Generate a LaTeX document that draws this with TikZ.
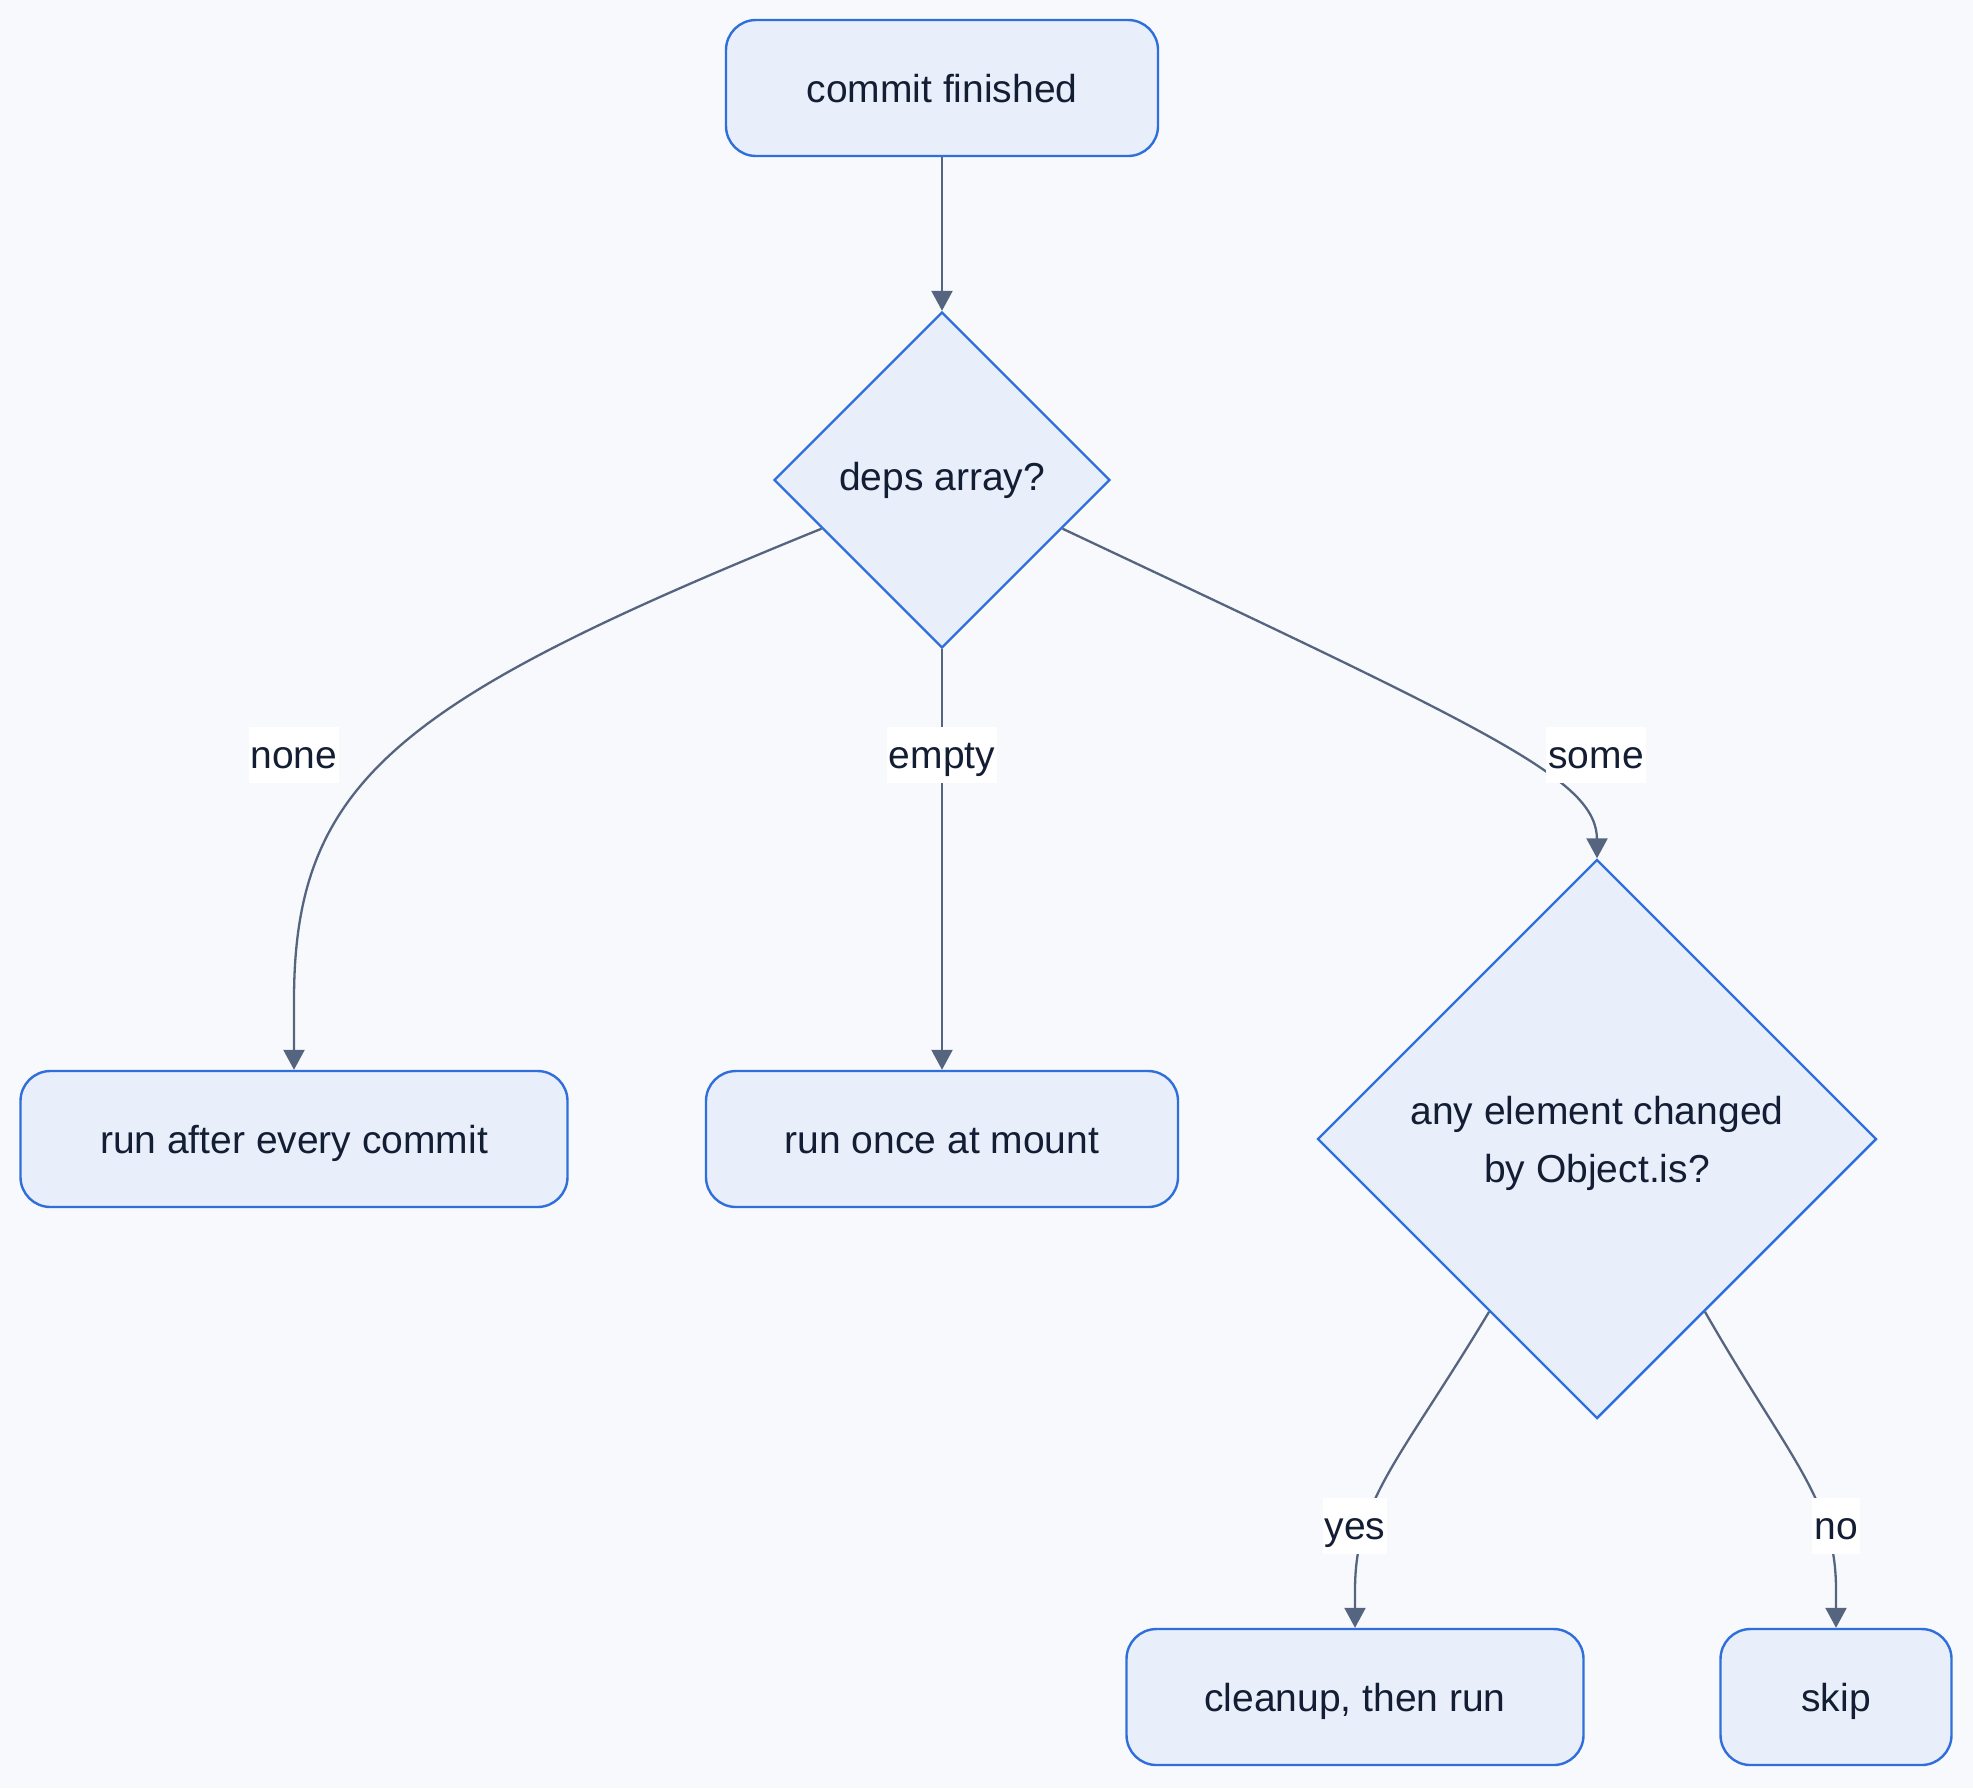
\documentclass[tikz,border=0pt]{standalone}
\usepackage{fontspec}
\setmainfont{Liberation Sans}
\usepackage{xcolor}
\usetikzlibrary{shapes.geometric, arrows.meta}

\definecolor{pagebg}{HTML}{F8F9FC}
\definecolor{boxfill}{HTML}{E8EFFA}
\definecolor{boxline}{HTML}{2F6FDB}
\definecolor{flowline}{HTML}{56657F}
\definecolor{inkdark}{HTML}{131D33}

\tikzset{
	procbox/.style={draw=boxline, fill=boxfill, line width=1.2pt, rounded corners=15pt,
		minimum height=68pt, text height=18pt, text depth=4pt, text=inkdark,
		font=\fontsize{19.5}{29}\selectfont},
	decision/.style={diamond, aspect=1, draw=boxline, fill=boxfill, line width=1.2pt,
		inner sep=0pt, align=center, text=inkdark, font=\fontsize{19.5}{29}\selectfont},
	flow/.style={draw=flowline, line width=1.15pt, -{Triangle[width=10.5pt, length=10pt]}},
	edgelabel/.style={fill=white, text=inkdark, inner xsep=1pt, inner ysep=0pt,
		minimum height=28pt, text height=17pt, text depth=4pt, font=\fontsize{19.5}{29}\selectfont}
}

\begin{document}
\begin{tikzpicture}[x=0.5pt, y=-0.5pt]
			\fill[pagebg] (0,0) rectangle (1973,1788);

			\node[procbox, minimum width=216pt] (commit) at (942,88) {commit finished};
			\node[decision, minimum size=168pt] (deps) at (942,480) {deps array?};

			\node[procbox, minimum width=273.5pt] (every) at (294,1139) {run after every commit};
			\node[procbox, minimum width=236pt] (mount) at (942,1139) {run once at mount};
			\node[decision, minimum size=279.5pt] (changed) at (1597,1139) {\rule{0pt}{19pt}any element changed\\by Object.is?};

			\node[procbox, minimum width=228.5pt] (cleanup) at (1355,1697) {cleanup, then run};
			\node[procbox, minimum width=115.5pt] (skip) at (1836,1697) {skip};

			\draw[flow] (commit) -- (deps);
			\draw[flow] (deps.202) .. controls (400,700) and (294,780) .. (294,1000) -- (every);
			\draw[flow] (deps) -- (mount);
			\draw[flow] (deps.338) .. controls (1500,735) and (1597,780) .. (1597,840) -- (changed.north);
			\draw[flow] (changed.238) .. controls (1400,1460) and (1355,1500) .. (1355,1590) -- (cleanup);
			\draw[flow] (changed.302) .. controls (1790,1460) and (1836,1500) .. (1836,1590) -- (skip);

			\node[edgelabel] (lnone) at (294,755) {none};
			\node[edgelabel] (lempty) at (942,755) {empty};
			\node[edgelabel] (lsome) at (1596,755) {some};
			\node[edgelabel] (lyes) at (1355,1526) {yes};
			\node[edgelabel] (lno) at (1836,1526) {no};
		\end{tikzpicture}
\end{document}
